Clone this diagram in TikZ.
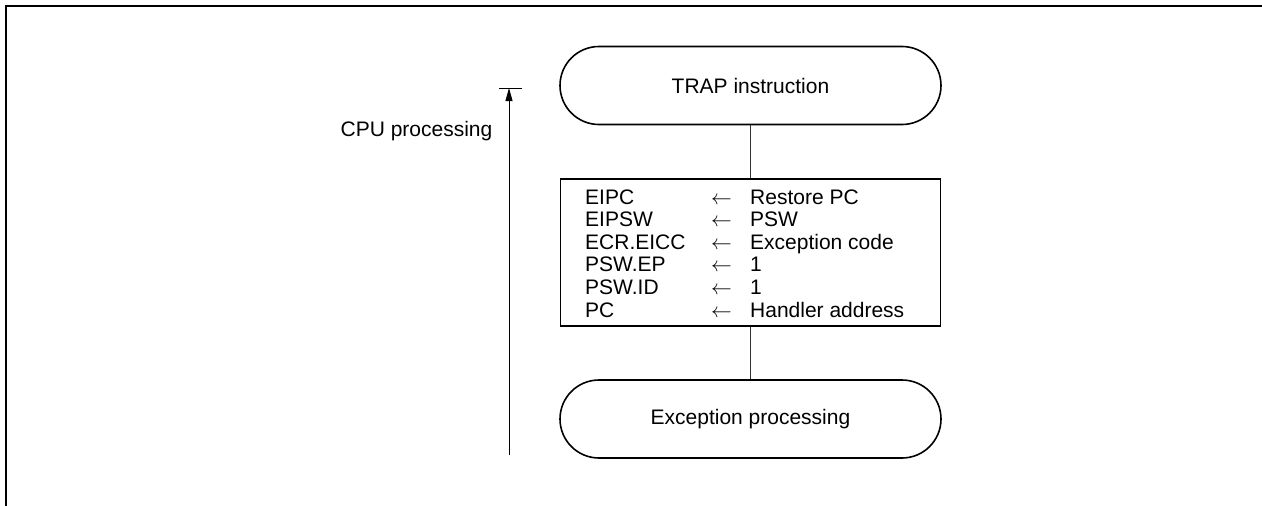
\documentclass[tikz,border=0pt]{standalone}
\usepackage{fontspec}
\setmainfont{Liberation Sans}
\usetikzlibrary{shapes.misc,arrows.meta}
\begin{document}
\begin{tikzpicture}[x=1pt,y=-1pt,
  every node/.style={font=\fontsize{21}{22.5}\selectfont, inner sep=0pt},
  terminal/.style={draw, line width=1.6pt, rounded rectangle, minimum width=381pt, minimum height=78pt},
  procbox/.style={draw, line width=1.8pt, rectangle, minimum width=380pt, minimum height=147pt},
  conn/.style={line width=0.8pt, draw=black!80},
  rowtext/.style={anchor=base west},
  frame/.style={line width=2pt}
]
\useasboundingbox (0,0) rectangle (1262,506);
% frame (top and left edges only)
\draw[frame] (6,506) -- (6,6) -- (1262,6);

\node[terminal] (trap) at (750.5,85.5) {TRAP instruction};
\node[procbox] (proc) at (750.5,252.5) {};
\node[terminal] (exc) at (750.5,419) {Exception processing};

\foreach \i/\l/\r in {1/EIPC/Restore PC, 2/EIPSW/PSW, 3/ECR.EICC/Exception code, 4/PSW.EP/1, 5/PSW.ID/1, 6/PC/Handler address}{
  \pgfmathsetmacro{\yy}{204+22.6*(\i-1)}
  \node[rowtext] (l\i) at (585,\yy) {\l};
  \node[rowtext] (a\i) at (711,\yy) {$\leftarrow$};
  \node[rowtext] (v\i) at (750,\yy) {\r};
}

\draw[conn] (trap.south) -- (proc.north);
\draw[conn] (proc.south) -- (exc.north);

% CPU processing span arrow
\coordinate (abot) at (509,455);
\coordinate (atop) at (509,88);
\coordinate (barl) at (499,88);
\coordinate (barr) at (522,88);
\draw[line width=0.8pt, -{Triangle[length=13pt,width=7pt]}] (abot) -- (atop);
\draw[line width=0.8pt] (barl) -- (barr);
\node (cpu) at (416.5,131) {CPU processing};
\end{tikzpicture}
\end{document}
